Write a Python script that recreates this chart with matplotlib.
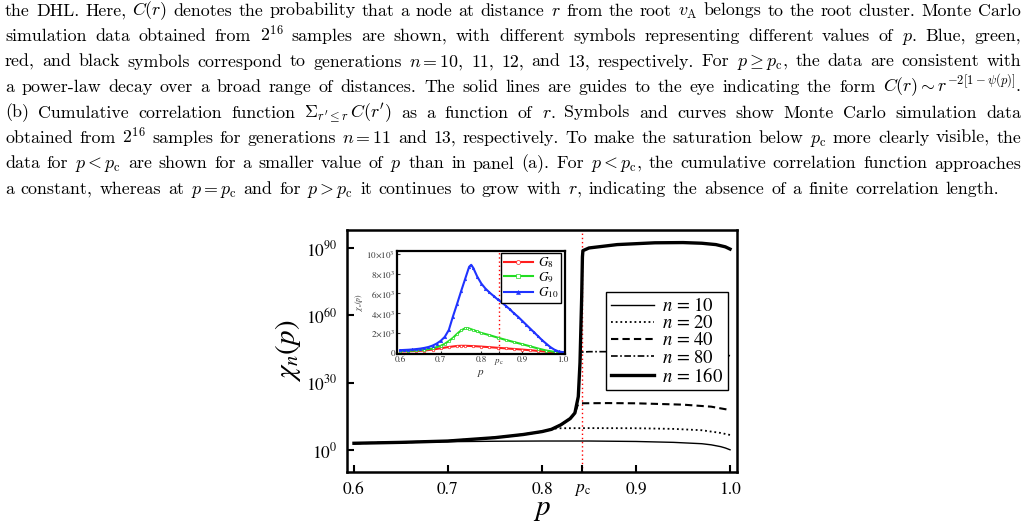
import matplotlib
matplotlib.use("Agg")
import matplotlib.pyplot as plt
import numpy as np
from matplotlib.ticker import NullLocator

plt.rcParams["font.family"] = ["STIXGeneral", "DejaVu Serif"]
plt.rcParams["mathtext.fontset"] = "stix"

W, H = 1028, 528
PC = 0.843

# ── caption text above the figure ────────────────────────────────────────────
CAPTION_LINES = [
    r"the DHL. Here, $C(r)$ denotes the probability that a node at distance $r$ from the root $v_{\mathrm{A}}$ belongs to the root cluster. Monte Carlo",
    r"simulation data obtained from $2^{16}$ samples are shown, with different symbols representing different values of $p$. Blue, green,",
    r"red, and black symbols correspond to generations $n = 10$, 11, 12, and 13, respectively. For $p \geq p_{\mathrm{c}}$, the data are consistent with",
    r"a power-law decay over a broad range of distances. The solid lines are guides to the eye indicating the form $C(r) \sim r^{-2[1-\psi(p)]}$.",
    r"(b) Cumulative correlation function ${\Sigma}_{r' \leq r}\, C(r')$ as a function of $r$. Symbols and curves show Monte Carlo simulation data",
    r"obtained from $2^{16}$ samples for generations $n = 11$ and 13, respectively. To make the saturation below $p_{\mathrm{c}}$ more clearly visible, the",
    r"data for $p < p_{\mathrm{c}}$ are shown for a smaller value of $p$ than in panel (a). For $p < p_{\mathrm{c}}$, the cumulative correlation function approaches",
    r"a constant, whereas at $p = p_{\mathrm{c}}$ and for $p > p_{\mathrm{c}}$ it continues to grow with $r$, indicating the absence of a finite correlation length.",
]

# ── main panel: log10 chi_n(p) ──────────────────────────────────────────────
P_N10 = [0.60, 0.65, 0.70, 0.75, 0.80, 0.85, 0.90, 0.94, 0.97, 0.98, 0.99, 0.995, 1.00]
LOG_N10 = [2.9, 3.3, 3.7, 3.9, 4.0, 4.0, 3.8, 3.4, 2.8, 2.3, 1.5, 0.9, 0.1]

P_N20 = [0.60, 0.65, 0.70, 0.75, 0.78, 0.80, 0.81, 0.815, 0.82, 0.85, 0.90, 0.94, 0.97, 0.99, 1.00]
LOG_N20 = [3.0, 3.4, 4.0, 5.5, 6.9, 8.2, 9.2, 9.6, 9.7, 9.75, 9.7, 9.4, 8.8, 7.6, 6.7]

P_N40 = [0.60, 0.65, 0.70, 0.75, 0.78, 0.80, 0.81, 0.82, 0.83, 0.835, 0.838, 0.84,
         0.87, 0.90, 0.95, 0.98, 1.00]
LOG_N40 = [3.0, 3.4, 4.0, 5.5, 6.9, 8.2, 9.2, 11.2, 14.0, 16.5, 20.0, 20.8,
           20.9, 20.8, 20.2, 19.3, 17.8]

P_N80 = [0.60, 0.65, 0.70, 0.75, 0.78, 0.80, 0.81, 0.82, 0.83, 0.835, 0.8386, 0.8404,
         0.8412, 0.842, 0.85, 0.90, 0.95, 0.98, 1.00]
LOG_N80 = [3.0, 3.4, 4.0, 5.5, 6.9, 8.2, 9.2, 11.2, 14.0, 16.5, 23.8, 38.8,
           43.0, 43.6, 43.8, 43.8, 43.5, 43.0, 42.0]

P_N160 = [0.60, 0.65, 0.70, 0.75, 0.78, 0.80, 0.81, 0.82, 0.83, 0.835, 0.8386, 0.8404,
          0.8422, 0.843, 0.8435, 0.85, 0.88, 0.92, 0.95, 0.97, 0.985, 0.995, 1.00]
LOG_N160 = [3.0, 3.4, 4.0, 5.5, 6.9, 8.2, 9.2, 11.2, 14.0, 16.5, 23.8, 38.8,
            68.0, 86.0, 88.8, 90.0, 91.5, 92.3, 92.4, 92.1, 91.5, 90.5, 89.5]

# ── inset: chi_n(p) on a linear scale for G8, G9, G10 ───────────────────────
P_G8 = [0.60, 0.62, 0.64, 0.66, 0.68, 0.70, 0.72, 0.74, 0.75, 0.76, 0.78, 0.80,
        0.82, 0.84, 0.86, 0.88, 0.90, 0.92, 0.94, 0.96, 0.98, 1.00]
CHI_G8 = [120, 140, 170, 220, 320, 450, 580, 680, 700, 700, 670, 620,
          560, 500, 440, 380, 320, 250, 180, 110, 50, 15]

P_G9 = [0.60, 0.62, 0.64, 0.66, 0.68, 0.70, 0.71, 0.72, 0.73, 0.74, 0.75, 0.76,
        0.765, 0.77, 0.78, 0.79, 0.80, 0.82, 0.84, 0.86, 0.88, 0.90, 0.92, 0.94,
        0.96, 0.98, 1.00]
CHI_G9 = [170, 190, 230, 300, 430, 700, 900, 1180, 1500, 1900, 2250, 2470,
          2500, 2450, 2300, 2150, 2000, 1780, 1530, 1300, 1080, 870, 650, 420,
          220, 80, 30]

P_G10 = [0.60, 0.61, 0.62, 0.63, 0.64, 0.65, 0.66, 0.67, 0.68, 0.69, 0.70, 0.71,
         0.72, 0.73, 0.74, 0.75, 0.76, 0.77, 0.775, 0.78, 0.79, 0.80, 0.81, 0.82,
         0.83, 0.84, 0.85, 0.86, 0.87, 0.88, 0.89, 0.90, 0.91, 0.92, 0.93, 0.94,
         0.95, 0.96, 0.97, 0.98, 0.99, 1.00]
CHI_G10 = [260, 280, 300, 330, 370, 420, 490, 580, 720, 920, 1200, 1600,
           2300, 3650, 4900, 6200, 7450, 8700, 8900, 8600, 7700, 7000, 6500, 6100,
           5750, 5400, 5100, 4750, 4400, 4000, 3650, 3250, 2850, 2450, 2050, 1650,
           1250, 900, 560, 300, 130, 60]

INSET_YTICKS = [0, 2000, 4000, 6000, 8000, 10000]
INSET_YLABELS = ["0"] + [r"$%d{\times}10^{3}$" % k for k in (2, 4, 6, 8, 10)]
XTICKS = [0.6, 0.7, 0.8, PC, 0.9, 1.0]
XLABELS = ["0.6", "0.7", "0.8", r"$p_{\mathrm{c}}$", "0.9", "1.0"]
MAIN_YTICKS = [1e0, 1e30, 1e60, 1e90]
MAIN_YLABELS = [r"$10^{0}$", r"$10^{30}$", r"$10^{60}$", r"$10^{90}$"]


def split_words(line):
    """Split on spaces that are not inside $...$."""
    words, cur, in_math = [], "", False
    for ch in line:
        if ch == "$":
            in_math = not in_math
        if ch == " " and not in_math:
            if cur:
                words.append(cur)
            cur = ""
        else:
            cur += ch
    if cur:
        words.append(cur)
    return words


fig = plt.figure(figsize=(W / 100, H / 100), dpi=100)
renderer = fig.canvas.get_renderer()

# caption, justified between x0 and x1 (last line left-aligned)
CAP_FS = 12.9
x0, x1 = 5.0, 1021.0
for i, line in enumerate(CAPTION_LINES):
    y = 1 - (15.5 + i * 25.5) / H
    texts = [
        fig.text(0, y, w, fontsize=CAP_FS, family=["cmr10", "DejaVu Serif"],
                 math_fontfamily="cm", va="baseline", ha="left")
        for w in split_words(line)
    ]
    widths = [t.get_window_extent(renderer).width for t in texts]
    if i < len(CAPTION_LINES) - 1:
        gap = (x1 - x0 - sum(widths)) / (len(texts) - 1)
    else:
        gap = 0.38 * CAP_FS * 100 / 72
    x = x0
    for t, w in zip(texts, widths):
        t.set_x(x / W)
        x += w + gap

# ── main axes ────────────────────────────────────────────────────────────────
ax = fig.add_axes([347 / W, 1 - 472 / H, 390 / W, 242 / H])
ax.set_yscale("log")
series = [
    (P_N10, LOG_N10, dict(ls="-", lw=1.0), r"$n$ = 10"),
    (P_N20, LOG_N20, dict(ls=(0, (1, 1.6)), lw=1.3), r"$n$ = 20"),
    (P_N40, LOG_N40, dict(ls=(0, (3.5, 2)), lw=1.5), r"$n$ = 40"),
    (P_N80, LOG_N80, dict(ls=(0, (4, 1.5, 1, 1.5)), lw=1.2), r"$n$ = 80"),
    (P_N160, LOG_N160, dict(ls="-", lw=2.4), r"$n$ = 160"),
]
for p, lg, style, lab in series:
    ax.plot(p, 10.0 ** np.array(lg), color="black", label=lab, **style)
ax.axvline(PC, color="red", ls=(0, (1, 2)), lw=1.0, zorder=1)

ax.set_xlim(0.5926, 1.0074)
ax.set_ylim(10.0 ** -9.8, 10.0 ** 98)
ax.set_xticks(XTICKS)
ax.set_xticklabels(XLABELS)
ax.set_yticks(MAIN_YTICKS)
ax.set_yticklabels(MAIN_YLABELS)
ax.yaxis.set_minor_locator(NullLocator())
ax.tick_params(direction="in", labelsize=12.5, width=1.5, length=5, pad=7)
for s in ax.spines.values():
    s.set_linewidth(1.8)
ax.set_xlabel(r"$p$", fontsize=21, labelpad=0)
ax.set_ylabel(r"$\chi_n(p)$", fontsize=21, labelpad=2)

leg = ax.legend(loc="upper right", bbox_to_anchor=(0.976, 0.742), fontsize=13.5,
                frameon=True, fancybox=False, edgecolor="black", framealpha=1,
                handlelength=2.3, handletextpad=0.4, labelspacing=0.0,
                borderpad=0.25, borderaxespad=0)
leg.get_frame().set_linewidth(1.0)

# ── inset ────────────────────────────────────────────────────────────────────
axi = fig.add_axes([397 / W, 1 - 354 / H, 168 / W, 103 / H])
axi.plot(P_G8, CHI_G8, color="#ff1e1e", lw=1.5, marker="o", ms=1.8, mfc="white",
         mew=0.5, label=r"$G_8$")
axi.plot(P_G9, CHI_G9, color="#22dd22", lw=1.5, marker="s", ms=1.7, mfc="white",
         mew=0.5, label=r"$G_9$")
axi.plot(P_G10, CHI_G10, color="#1f33ff", lw=1.5, marker="^", ms=1.8,
         mew=0.4, label=r"$G_{10}$")
axi.axvline(PC, color="red", ls=(0, (1, 2)), lw=1.0, zorder=1)
axi.set_xlim(0.5926, 1.0057)
axi.set_ylim(-130, 10300)
axi.set_xticks(XTICKS)
axi.set_xticklabels(XLABELS)
axi.set_yticks(INSET_YTICKS)
axi.set_yticklabels(INSET_YLABELS)
axi.tick_params(direction="in", labelsize=6.5, width=0.8, length=2.5, pad=1.5,
                colors="#333333")
for s in axi.spines.values():
    s.set_linewidth(1.6)
axi.set_xlabel(r"$p$", fontsize=8, labelpad=0, color="#333333")
axi.set_ylabel(r"$\chi_n(p)$", fontsize=5.5, labelpad=1, color="#333333")
ileg = axi.legend(loc="upper right", bbox_to_anchor=(0.978, 0.985), fontsize=9.5,
                  frameon=True, fancybox=False, edgecolor="black", framealpha=1,
                  handlelength=2.2, handletextpad=0.4, labelspacing=0.05,
                  borderpad=0.2, borderaxespad=0, markerscale=1.6)
ileg.get_frame().set_linewidth(1.0)

fig.savefig("out.png", dpi=100)
